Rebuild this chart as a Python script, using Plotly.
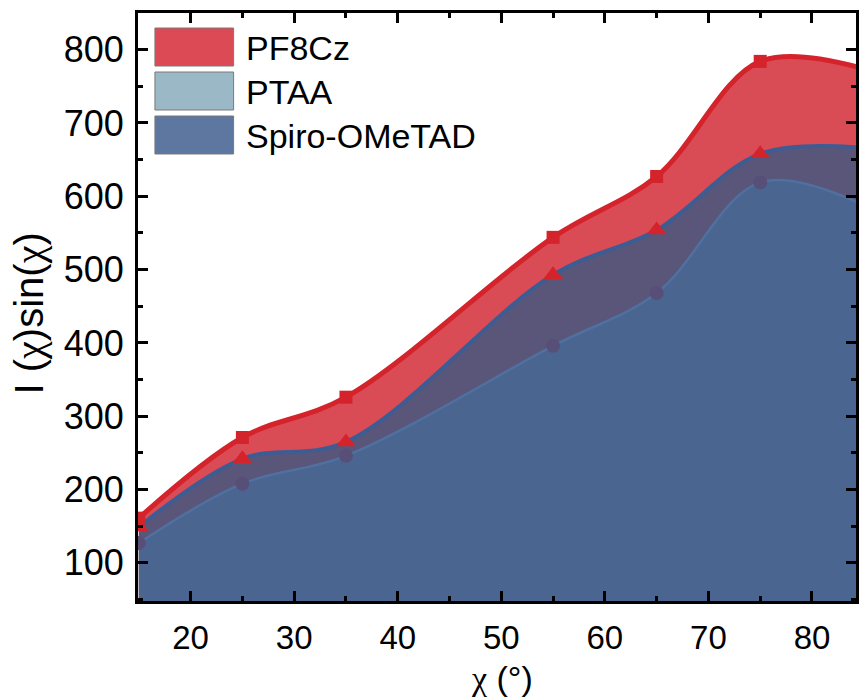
import plotly.graph_objects as go

# ---- data ----
chi = [15, 25, 35, 55, 65, 75, 85]
pf8cz = [161, 271, 326, 544, 627, 784, 774]
ptaa = [149, 242, 265, 493, 554, 658, 666]
spiro = [127, 208, 246, 396, 468, 619, 588]
series_names = ["PF8Cz", "PTAA", "Spiro-OMeTAD"]
x_ticks = [20, 30, 40, 50, 60, 70, 80]
y_ticks = [100, 200, 300, 400, 500, 600, 700, 800]

# ---- layout geometry (pixels) ----
W, H = 859, 700
PL, PR, PT, PB = 138, 859, 13, 601


def px(x):
    return (x - PL) / (PR - PL)


def py(y):
    return (PB - y) / (PB - PT)


FONT = "Liberation Sans, Arial, sans-serif"

fig = go.Figure()

# filled areas (drawn in order: PF8Cz, PTAA, Spiro)
fig.add_trace(go.Scatter(x=chi, y=pf8cz, mode="lines", fill="tozeroy",
                         fillcolor="#DA4C55",
                         line=dict(color="#D5232B", width=5, shape="spline", smoothing=1.0),
                         showlegend=False, hoverinfo="skip"))
fig.add_trace(go.Scatter(x=chi, y=ptaa, mode="lines", fill="tozeroy",
                         fillcolor="#5A5679",
                         line=dict(color="#3C5C94", width=4, shape="spline", smoothing=1.0),
                         showlegend=False, hoverinfo="skip"))
fig.add_trace(go.Scatter(x=chi, y=spiro, mode="lines", fill="tozeroy",
                         fillcolor="#4A6590",
                         line=dict(color="#4F70A0", width=2.5, shape="spline", smoothing=1.0),
                         showlegend=False, hoverinfo="skip"))

# markers on top
fig.add_trace(go.Scatter(x=chi, y=spiro, mode="markers",
                         marker=dict(symbol="circle", size=14, color="#574F78"),
                         showlegend=False))
fig.add_trace(go.Scatter(x=chi, y=ptaa, mode="markers",
                         marker=dict(symbol="triangle-up", size=17, color="#D5232B"),
                         showlegend=False))
fig.add_trace(go.Scatter(x=chi, y=pf8cz, mode="markers",
                         marker=dict(symbol="square", size=13, color="#D5232B"),
                         showlegend=False))

# ---- manual legend ----
legend_colors = ["#DC4B55", "#9AB8C6", "#5E77A1"]
box_tops = [28, 72, 116]
box_h = 38
shapes = []
annotations = []
for name, col, top in zip(series_names, legend_colors, box_tops):
    shapes.append(dict(type="rect", xref="paper", yref="paper",
                       x0=px(155), x1=px(234), y0=py(top + box_h), y1=py(top),
                       fillcolor=col, line=dict(color="#7A7A7A", width=1), layer="above"))
    annotations.append(dict(xref="paper", yref="paper", x=px(244), y=py(top + box_h / 2 + 1),
                            xanchor="left", yanchor="middle", text=name, showarrow=False,
                            font=dict(family=FONT, size=34, color="black")))

# axis titles
annotations.append(dict(xref="paper", yref="paper", x=px(29), y=py(313),
                        xanchor="center", yanchor="middle", textangle=-90,
                        text="I (<span style='font-family:Liberation Serif'>χ</span>)sin(<span style='font-family:Liberation Serif'>χ</span>)",
                        showarrow=False, font=dict(family=FONT, size=40, color="black")))
annotations.append(dict(xref="paper", yref="paper", x=px(504), y=py(699),
                        xanchor="center", yanchor="bottom",
                        text="<span style='font-family:Liberation Serif'>χ</span> (°)",
                        showarrow=False, font=dict(family=FONT, size=34, color="black")))

axis_common = dict(showline=True, linecolor="black", linewidth=3, mirror="ticks",
                   ticks="inside", ticklen=10, tickwidth=3, tickcolor="black",
                   showgrid=False, zeroline=False)

fig.update_layout(
    width=W, height=H,
    margin=dict(l=PL, r=W - PR, t=PT, b=H - PB, pad=0),
    paper_bgcolor="white", plot_bgcolor="white",
    showlegend=False,
    shapes=shapes, annotations=annotations,
    xaxis=dict(range=[14.92, 84.25], tickvals=x_ticks,
               ticktext=[str(v) for v in x_ticks],
               tickfont=dict(family=FONT, size=33, color="black"),
               minor=dict(ticks="inside", dtick=5, tick0=0, ticklen=5, tickwidth=2.5, tickcolor="black"),
               ticklabelstandoff=5,
               **axis_common),
    yaxis=dict(range=[48, 850], tickvals=y_ticks,
               ticktext=[str(v) for v in y_ticks],
               tickfont=dict(family=FONT, size=36, color="black"),
               minor=dict(ticks="inside", dtick=50, tick0=0, ticklen=5, tickwidth=2.5, tickcolor="black"),
               ticklabelstandoff=4,
               **axis_common),
)

fig.write_html("out.html")
